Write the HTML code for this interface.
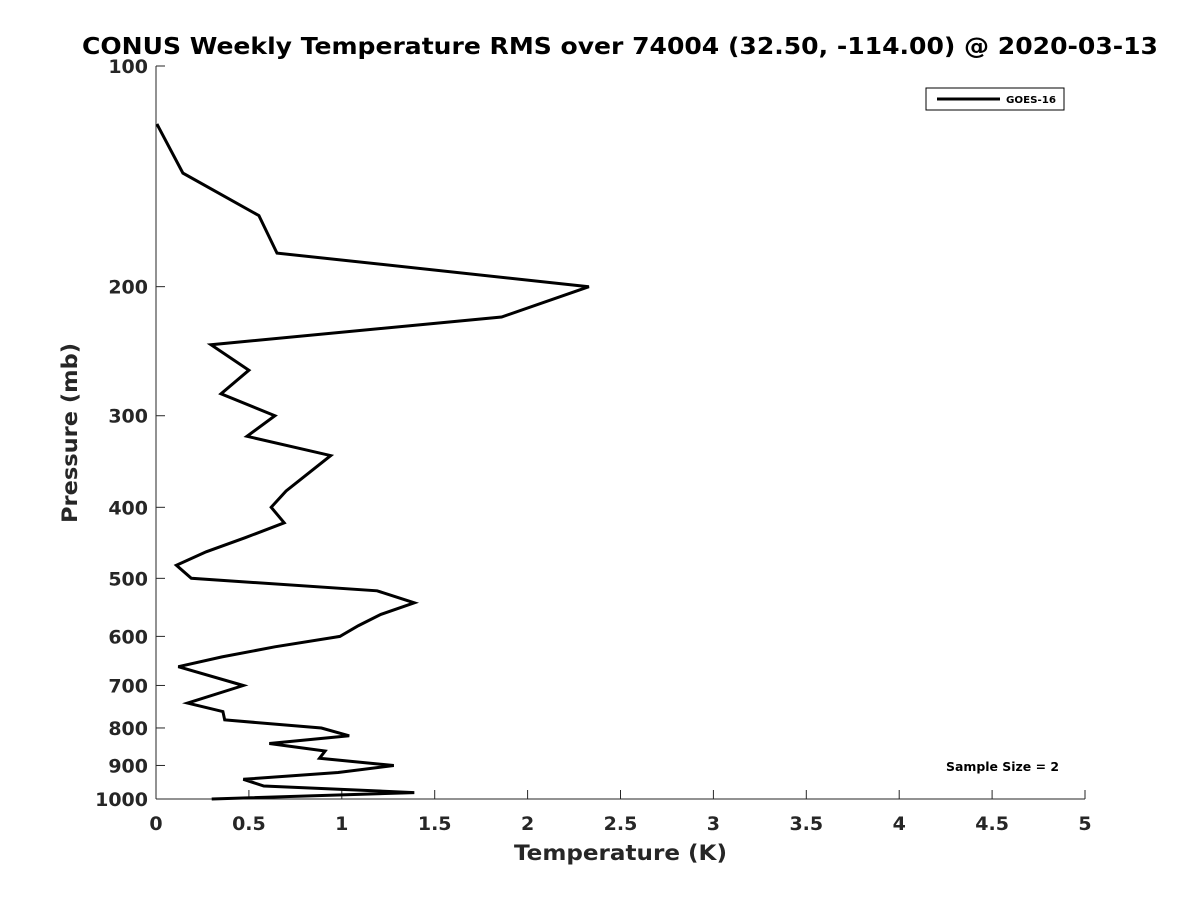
<!DOCTYPE html>
<html><head><meta charset="utf-8"><style>
body{margin:0;background:#fff;}
text{font-family:"DejaVu Sans","Liberation Sans",sans-serif;font-weight:bold;fill:#262626;}
</style></head><body>
<svg id="chart" width="1200" height="900" xmlns="http://www.w3.org/2000/svg">
<rect width="1200" height="900" fill="#fff"/>
<text x="82" y="54" font-size="23" textLength="1076" lengthAdjust="spacingAndGlyphs" style="fill:#000">CONUS Weekly Temperature RMS over 74004 (32.50, -114.00) @ 2020-03-13</text>
<g id="axes"></g>
<path id="series" fill="none" stroke="#000" stroke-width="3" stroke-linejoin="miter"/>
<g>
<rect x="926" y="88" width="138" height="22" fill="#fff" stroke="#000" stroke-width="1"/>
<line x1="937" y1="99" x2="1000" y2="99" stroke="#000" stroke-width="3"/>
<text x="1006" y="103" font-size="10" textLength="50" lengthAdjust="spacingAndGlyphs" style="fill:#000">GOES-16</text>
</g>
<text x="946" y="771" font-size="12" textLength="113" lengthAdjust="spacingAndGlyphs" style="fill:#000">Sample Size = 2</text>
<text x="514" y="860" font-size="21" textLength="213" lengthAdjust="spacingAndGlyphs">Temperature (K)</text>
<text transform="translate(77,523) rotate(-90)" font-size="21" textLength="180" lengthAdjust="spacingAndGlyphs">Pressure (mb)</text>
</svg>
<script>
const pressures=[120,140,160,180,200,220,240,260,280,300,320,340,380,400,420,440,460,480,500,520,540,560,580,600,620,640,660,700,740,760,780,800,820,840,860,880,900,920,940,960,980,1000];
const rmsValues=[0.005,0.145,0.554,0.651,2.33,1.86,0.296,0.50,0.35,0.64,0.49,0.94,0.70,0.62,0.69,0.48,0.27,0.11,0.19,1.19,1.39,1.21,1.09,0.99,0.64,0.355,0.12,0.47,0.17,0.36,0.37,0.89,1.04,0.61,0.91,0.88,1.28,0.98,0.47,0.58,1.39,0.30];
const xTicks=[0,0.5,1,1.5,2,2.5,3,3.5,4,4.5,5];
const yTicks=[100,200,300,400,500,600,700,800,900,1000];
const X0=156,X1=1085,Y0=66,Y1=799;
const xs=v=>X0+(v/5)*(X1-X0);
const ys=p=>Y0+(Math.log10(p)-2)*(Y1-Y0);
const NS="http://www.w3.org/2000/svg";
const ax=document.getElementById('axes');
function mk(t,a){const e=document.createElementNS(NS,t);for(const k in a)e.setAttribute(k,a[k]);ax.appendChild(e);return e;}
const xl=mk('line',{x1:X0,y1:Y1,x2:X1,y2:Y1,stroke:'#262626','stroke-width':1});


const yl=mk('line',{x1:X0,y1:Y0,x2:X0,y2:Y1,stroke:'#262626','stroke-width':1});


xTicks.forEach(v=>{
 mk('line',{x1:xs(v),y1:Y1,x2:xs(v),y2:Y1-9,stroke:'#262626'});
 const t=mk('text',{x:xs(v),y:Y1+31,'text-anchor':'middle','font-size':19});
 t.textContent=v;
 
 
});
yTicks.forEach(p=>{
 mk('line',{x1:X0,y1:ys(p),x2:X0+9,y2:ys(p),stroke:'#262626'});
 const t=mk('text',{x:X0-8,y:ys(p)+7,'text-anchor':'end','font-size':19});
 t.textContent=p;
 
 
});
document.getElementById('series').setAttribute('d',pressures.map((p,i)=>(i?'L':'M')+xs(rmsValues[i]).toFixed(1)+','+ys(p).toFixed(1)).join(' '));
</script>
</body></html>
